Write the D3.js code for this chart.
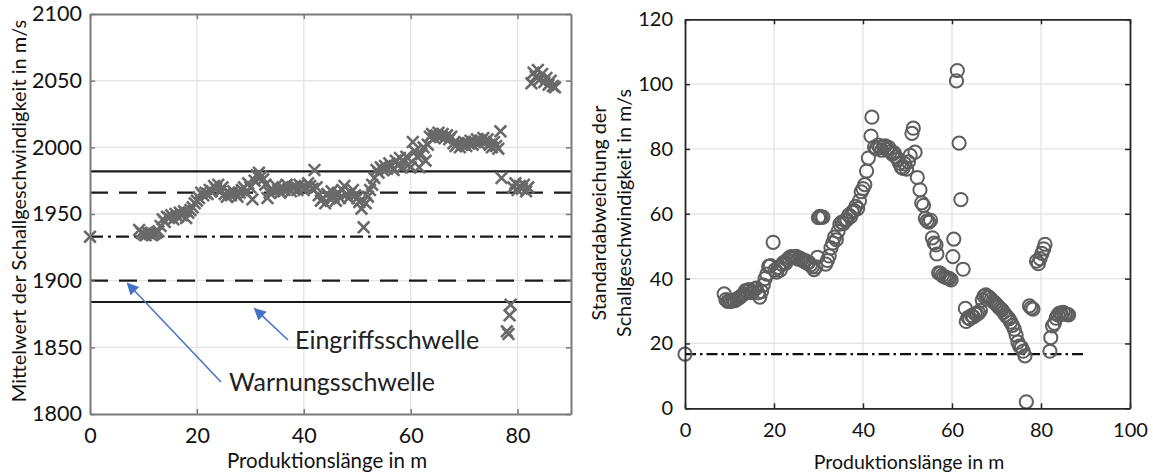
<!DOCTYPE html>
<html>
<head>
<meta charset="utf-8">
<script src="https://cdn.jsdelivr.net/npm/d3@7"></script>
<style>
  body { margin: 0; background: #fff; }
  svg { font-family: Lato, "Noto Sans", sans-serif; }
</style>
</head>
<body>
<div id="chart"></div>
<script>
// ---- data: left chart (mean sound speed) ----
let meanLength = [0, 9.2, 9.6, 10.0, 10.4, 10.8, 11.2, 11.6, 12.0, 12.4, 12.8, 13.2, 13.6, 14.0, 14.4, 14.8, 15.2, 15.6, 16.0, 16.4, 16.8, 17.2, 17.6, 18.0, 18.4, 18.8, 19.2, 19.6,
    20.0, 20.4, 20.8, 21.2, 21.6, 22.0, 22.4, 22.8, 23.2, 23.6, 24.0, 24.4, 24.8, 25.2, 25.6, 26.0, 26.4, 26.8, 27.2, 27.6, 28.0, 28.4, 28.8, 29.2, 29.6,
    30.0, 30.4, 30.8, 31.2, 31.6, 32.0, 32.4, 32.8, 33.2, 33.6, 34.0, 34.4, 34.8, 35.2, 35.6, 36.0, 36.4, 36.8, 37.2, 37.6, 38.0, 38.4, 38.8, 39.2, 39.6,
    40.0, 40.4, 40.8, 41.2, 41.6, 42.0, 42.4, 42.8, 43.2, 43.6, 44.0, 44.4, 44.8, 45.2, 45.6, 46.0, 46.4, 46.8, 47.2, 47.6, 48.0, 48.4, 48.8, 49.2, 49.6,
    50.0, 50.4, 50.8, 51.2, 51.6, 52.0, 52.4, 52.8, 53.2, 53.6, 54.0, 54.4, 54.8, 55.2, 55.6, 56.0, 56.4, 56.8, 57.2, 57.6, 58.0, 58.4, 58.8, 59.2, 59.6,
    60.0, 60.4, 60.8, 61.2, 61.6, 62.0, 62.4, 62.8, 63.2, 63.6, 64.0, 64.4, 64.8, 65.2, 65.6, 66.0, 66.4, 66.8, 67.2, 67.6, 68.0, 68.4, 68.8, 69.2, 69.6,
    70.0, 70.4, 70.8, 71.2, 71.6, 72.0, 72.4, 72.8, 73.2, 73.6, 74.0, 74.4, 74.8, 75.2, 75.6, 76.0, 76.4, 76.8, 77.0, 78.0, 78.3, 78.5, 78.7, 79.2, 79.6,
    80.0, 80.4, 80.8, 81.2, 81.6, 82.0, 82.6, 83.0, 83.4, 83.8, 84.2, 84.6, 85.0, 85.4, 85.8, 86.2, 86.6, 87.0];
let meanSpeed = [1933, 1938, 1936, 1935, 1934, 1936, 1935, 1934, 1935, 1936, 1937, 1941, 1946, 1944, 1948, 1947, 1949, 1946, 1950, 1948, 1951, 1949, 1952, 1947, 1951, 1953, 1955, 1958,
    1960, 1962, 1966, 1964, 1966, 1965, 1968, 1967, 1971, 1969, 1972, 1967, 1970, 1965, 1963, 1966, 1964, 1967, 1965, 1963, 1966, 1968, 1970, 1966, 1973,
    1970, 1961, 1975, 1979, 1981, 1978, 1976, 1972, 1962, 1966, 1969, 1967, 1971, 1968, 1966, 1970, 1968, 1972, 1969, 1967, 1970, 1971, 1968, 1972, 1970,
    1968, 1970, 1973, 1971, 1969, 1983, 1970, 1964, 1960, 1962, 1958, 1965, 1962, 1967, 1963, 1960, 1966, 1962, 1968, 1971, 1965, 1962, 1966, 1968, 1964,
    1962, 1959, 1954, 1940, 1958, 1963, 1968, 1972, 1977, 1983, 1981, 1985, 1983, 1986, 1984, 1988, 1986, 1983, 1990, 1987, 1992, 1985, 1989, 1993, 1987,
    1985, 2004, 1997, 1993, 1985, 1995, 2000, 1990, 2002, 2008, 2010, 2007, 2009, 2011, 2008, 2010, 2007, 2009, 2006, 2008, 2003, 2001, 2003, 2000, 2002,
    2004, 2001, 2003, 2005, 2002, 2004, 2006, 2003, 2005, 2007, 2004, 2006, 2002, 2000, 2004, 2001, 1999, 2012, 1977, 1862, 1860, 1874, 1882, 1970, 1973,
    1968, 1971, 1969, 1972, 1967, 1970, 2048, 2056, 2053, 2058, 2051, 2055, 2049, 2052, 2047, 2050, 2046, 2045];

// control limits of the mean chart
let meanCenter = 1933;
let warnLimits = [1900, 1966];
let actionLimits = [1884, 1982];

// ---- data: right chart (standard deviation) ----
let stdLength = [0, 8.8, 9.2, 9.6, 10.0, 10.4, 10.8, 11.2, 11.6, 12.0, 12.4, 12.8, 13.2, 13.6, 14.0, 14.4, 14.8, 15.2, 15.6, 16.0, 16.4, 16.8, 17.2, 17.6, 18.0, 18.4, 18.8, 19.2, 19.8,
    20.2, 20.6, 21.0, 21.4, 21.8, 22.2, 22.6, 23.0, 23.4, 23.8, 24.2, 24.6, 25.0, 25.4, 25.8, 26.2, 26.6, 27.0, 27.4, 27.8, 28.2, 28.6, 29.0, 29.4, 29.8,
    30.0, 30.3, 30.6, 31.0, 31.6, 32.0, 32.4, 32.8, 33.2, 33.6, 34.0, 34.4, 34.8, 35.2, 35.6, 36.0, 36.4, 36.8, 37.2, 37.6, 38.0, 38.4, 38.8, 39.2, 39.6,
    40.0, 40.4, 40.8, 41.2, 41.8, 42.0, 42.6, 43.0, 43.4, 43.8, 44.2, 44.6, 45.0, 45.4, 45.8, 46.2, 46.6, 47.0, 47.4, 47.8, 48.2, 48.6, 49.0, 49.4, 49.8,
    50.2, 50.6, 51.0, 51.3, 51.7, 52.2, 52.8, 53.2, 53.6, 54.0, 54.4, 54.8, 55.2, 55.6, 56.0, 56.4, 56.6, 57.0, 57.4, 57.8, 58.2, 58.6, 59.0, 59.4, 59.8,
    60.2, 60.4, 61.0, 61.2, 61.6, 62.0, 62.5, 63.0, 63.2, 63.6, 64.0, 64.4, 64.8, 65.2, 65.6, 66.0, 66.4, 66.8, 67.2, 67.6, 68.0, 68.4, 68.8, 69.2, 69.6,
    70.0, 70.4, 70.8, 71.2, 71.6, 72.0, 72.4, 72.8, 73.2, 73.6, 74.0, 74.4, 74.8, 75.2, 75.6, 76.0, 76.4, 76.7, 77.4, 77.8, 78.2, 79.0, 79.4, 79.8,
    80.2, 80.6, 80.9, 82.0, 82.2, 82.6, 83.0, 83.4, 83.8, 84.2, 84.6, 85.0, 85.4, 85.8, 86.2];
let stdSpeed = [16.7, 35.3, 33.5, 33.0, 33.2, 33.0, 33.4, 33.2, 33.6, 34.0, 34.3, 34.8, 35.2, 36.3, 36.0, 36.6, 35.7, 36.0, 36.8, 37.1, 35.6, 34.3, 36.0, 38.0, 40.0, 41.4, 43.8, 44.0, 51.2,
    42.6, 42.0, 43.5, 42.6, 44.4, 45.0, 44.7, 45.8, 46.4, 46.8, 46.6, 46.5, 46.9, 46.0, 46.3, 46.0, 45.4, 45.6, 44.8, 45.0, 44.2, 43.6, 42.8, 43.6, 46.6,
    58.8, 59.2, 58.9, 59.0, 44.5, 45.6, 47.0, 49.5, 51.0, 52.8, 52.0, 54.6, 56.8, 57.4, 57.0, 58.0, 58.2, 59.6, 59.1, 60.5, 61.0, 62.3, 61.6, 64.0, 66.8,
    67.8, 69.0, 73.2, 77.2, 84.0, 89.8, 80.6, 80.0, 81.2, 80.4, 79.6, 80.8, 81.0, 79.8, 80.4, 79.2, 78.4, 78.8, 77.6, 76.8, 75.6, 74.4, 74.0, 75.4, 73.8,
    76.0, 78.0, 84.8, 86.4, 79.0, 71.2, 67.4, 63.4, 62.6, 58.6, 57.8, 57.4, 58.0, 52.6, 51.0, 50.4, 47.6, 41.8, 41.6, 41.0, 40.6, 40.4, 40.2, 40.0, 39.6,
    46.8, 52.2, 101.0, 104.2, 81.8, 64.4, 42.9, 30.8, 26.8, 28.0, 27.6, 28.6, 28.2, 29.2, 29.0, 29.4, 30.2, 33.4, 34.6, 35.0, 34.4, 34.2, 33.6, 33.0, 32.6,
    32.0, 31.4, 30.8, 30.4, 29.6, 28.8, 28.2, 27.6, 26.6, 25.6, 24.4, 22.6, 20.4, 19.2, 18.8, 17.6, 16.2, 2.0, 31.6, 31.0, 30.6, 45.4, 44.6, 46.2,
    47.8, 49.2, 50.6, 17.6, 21.8, 25.4, 26.2, 27.8, 28.8, 29.4, 29.0, 29.6, 29.2, 29.0, 28.8];
let stdCenter = 16.7;

// tick values
let meanXTicks = [0, 20, 40, 60, 80];
let meanYTicks = [1800, 1850, 1900, 1950, 2000, 2050, 2100];
let stdXTicks = [0, 20, 40, 60, 80, 100];
let stdYTicks = [0, 20, 40, 60, 80, 100, 120];

function drawCharts() {
    let W = 1153, H = 475;

    let svg = d3.select("#chart")
        .append("svg")
        .attr("width", W)
        .attr("height", H);

    // arrow head marker for the annotations
    svg.append("defs").append("marker")
        .attr("id", "arrowhead")
        .attr("viewBox", "0 0 10 10")
        .attr("refX", 9).attr("refY", 5)
        .attr("markerWidth", 13).attr("markerHeight", 12)
        .attr("markerUnits", "userSpaceOnUse")
        .attr("orient", "auto")
        .append("path")
        .attr("d", "M0,0 L10,5 L0,10 z")
        .attr("fill", "#4472c4");

    // ================= left chart =================
    let x1 = d3.scaleLinear().domain([0, 90]).range([90, 571]);
    let y1 = d3.scaleLinear().domain([1800, 2100]).range([414, 14]);

    let g1 = svg.append("g");

    // grid
    g1.append("g").selectAll("line")
        .data(meanXTicks.slice(1))
        .join("line")
        .attr("x1", d => x1(d)).attr("x2", d => x1(d))
        .attr("y1", y1(1800)).attr("y2", y1(2100))
        .attr("stroke", "#e3e3e3").attr("stroke-width", 1.3);
    g1.append("g").selectAll("line")
        .data(meanYTicks.slice(1, -1))
        .join("line")
        .attr("x1", x1(0)).attr("x2", x1(90))
        .attr("y1", d => y1(d)).attr("y2", d => y1(d))
        .attr("stroke", "#e3e3e3").attr("stroke-width", 1.3);

    // control limit lines
    let limits1 = [
        {v: actionLimits[1], dash: null},
        {v: warnLimits[1], dash: "18,11"},
        {v: meanCenter, dash: "13,5,3,5"},
        {v: warnLimits[0], dash: "18,11"},
        {v: actionLimits[0], dash: null}
    ];
    g1.append("g").selectAll("line")
        .data(limits1)
        .join("line")
        .attr("x1", x1(0)).attr("x2", x1(90))
        .attr("y1", d => y1(d.v)).attr("y2", d => y1(d.v))
        .attr("stroke", "#1a1a1a").attr("stroke-width", 2.2)
        .attr("stroke-dasharray", d => d.dash);

    // data points (x markers)
    let meanData = meanLength.map((d, i) => ({x: d, y: meanSpeed[i]}));
    g1.append("g").selectAll("path")
        .data(meanData)
        .join("path")
        .attr("transform", d => "translate(" + x1(d.x) + "," + y1(d.y) + ")")
        .attr("d", d3.symbol().type(d3.symbolTimes).size(90))
        .attr("fill", "none")
        .attr("stroke", "#696969")
        .attr("stroke-width", 2.6);

    // axes, ticks pointing inward
    let axisCol1 = "#7a7a7a";
    g1.append("g")
        .attr("transform", "translate(0," + y1(1800) + ")")
        .call(d3.axisBottom(x1).tickValues(meanXTicks).tickSize(-5).tickPadding(14).tickSizeOuter(0));
    g1.append("g")
        .attr("transform", "translate(0," + y1(2100) + ")")
        .call(d3.axisTop(x1).tickValues(meanXTicks).tickSize(-5).tickFormat("").tickSizeOuter(0));
    g1.append("g")
        .attr("transform", "translate(" + x1(0) + ",0)")
        .call(d3.axisLeft(y1).tickValues(meanYTicks).tickFormat(d3.format("d")).tickSize(-5).tickPadding(8).tickSizeOuter(0));
    g1.append("g")
        .attr("transform", "translate(" + x1(90) + ",0)")
        .call(d3.axisRight(y1).tickValues(meanYTicks).tickSize(-5).tickFormat("").tickSizeOuter(0));
    g1.selectAll(".domain").attr("stroke", axisCol1).attr("stroke-width", 2);
    g1.selectAll(".tick line").attr("stroke", axisCol1).attr("stroke-width", 1.5);
    g1.selectAll(".tick text").attr("font-size", 21.5).attr("font-family", "Lato").attr("fill", "#111");

    // axis titles
    g1.append("text")
        .attr("x", 327).attr("y", 468)
        .attr("text-anchor", "middle")
        .attr("font-size", 20.5).attr("fill", "#111")
        .text("Produktionslänge in m");
    g1.append("text")
        .attr("transform", "translate(26,211) rotate(-90)")
        .attr("text-anchor", "middle")
        .attr("font-size", 20).attr("fill", "#111")
        .text("Mittelwert der Schallgeschwindigkeit in m/s");

    // annotations
    g1.append("line")
        .attr("x1", 221).attr("y1", 382).attr("x2", x1(7)).attr("y2", y1(1898))
        .attr("stroke", "#4472c4").attr("stroke-width", 1.5)
        .attr("marker-end", "url(#arrowhead)");
    g1.append("line")
        .attr("x1", 288).attr("y1", 340).attr("x2", x1(30.8)).attr("y2", y1(1879))
        .attr("stroke", "#4472c4").attr("stroke-width", 1.5)
        .attr("marker-end", "url(#arrowhead)");
    g1.append("text")
        .attr("x", 295).attr("y", 349)
        .attr("font-size", 25).attr("fill", "#222")
        .text("Eingriffsschwelle");
    g1.append("text")
        .attr("x", 229).attr("y", 391)
        .attr("font-size", 25).attr("fill", "#222")
        .text("Warnungsschwelle");

    // ================= right chart =================
    let x2 = d3.scaleLinear().domain([0, 100]).range([685, 1130]);
    let y2 = d3.scaleLinear().domain([0, 120]).range([408.3, 19.3]);

    let g2 = svg.append("g");

    g2.append("g").selectAll("line")
        .data(stdXTicks.slice(1, -1))
        .join("line")
        .attr("x1", d => x2(d)).attr("x2", d => x2(d))
        .attr("y1", y2(0)).attr("y2", y2(120))
        .attr("stroke", "#e3e3e3").attr("stroke-width", 1.3);
    g2.append("g").selectAll("line")
        .data(stdYTicks.slice(1, -1))
        .join("line")
        .attr("x1", x2(0)).attr("x2", x2(100))
        .attr("y1", d => y2(d)).attr("y2", d => y2(d))
        .attr("stroke", "#e3e3e3").attr("stroke-width", 1.3);

    // control limit (dash-dot)
    g2.append("line")
        .attr("x1", x2(0)).attr("x2", x2(90))
        .attr("y1", y2(stdCenter)).attr("y2", y2(stdCenter))
        .attr("stroke", "#111").attr("stroke-width", 2.2)
        .attr("stroke-dasharray", "11,4,2.5,4");

    let stdData = stdLength.map((d, i) => ({x: d, y: stdSpeed[i]}));
    g2.append("g").selectAll("circle")
        .data(stdData)
        .join("circle")
        .attr("cx", d => x2(d.x))
        .attr("cy", d => y2(d.y))
        .attr("r", 6.6)
        .attr("fill", "none")
        .attr("stroke", "#5e5e5e")
        .attr("stroke-width", 2);

    let axisCol2 = "#262626";
    g2.append("g")
        .attr("transform", "translate(0," + y2(0) + ")")
        .call(d3.axisBottom(x2).tickValues(stdXTicks).tickSize(-5).tickPadding(15).tickSizeOuter(0));
    g2.append("g")
        .attr("transform", "translate(0," + y2(120) + ")")
        .call(d3.axisTop(x2).tickValues(stdXTicks).tickSize(-5).tickFormat("").tickSizeOuter(0));
    g2.append("g")
        .attr("transform", "translate(" + x2(0) + ",0)")
        .call(d3.axisLeft(y2).tickValues(stdYTicks).tickSize(-5).tickPadding(12).tickSizeOuter(0));
    g2.append("g")
        .attr("transform", "translate(" + x2(100) + ",0)")
        .call(d3.axisRight(y2).tickValues(stdYTicks).tickSize(-5).tickFormat("").tickSizeOuter(0));
    g2.selectAll(".domain").attr("stroke", axisCol2).attr("stroke-width", 1.8);
    g2.selectAll(".tick line").attr("stroke", axisCol2).attr("stroke-width", 1.5);
    g2.selectAll(".tick text").attr("font-size", 20).attr("font-family", "Lato").attr("fill", "#111");

    g2.append("text")
        .attr("x", 909).attr("y", 469)
        .attr("text-anchor", "middle")
        .attr("font-size", 19.5).attr("fill", "#111")
        .text("Produktionslänge in m");
    g2.append("text")
        .attr("transform", "translate(606,213) rotate(-90)")
        .attr("text-anchor", "middle")
        .attr("font-size", 19.8).attr("fill", "#111")
        .text("Standardabweichung der");
    g2.append("text")
        .attr("transform", "translate(631,213) rotate(-90)")
        .attr("text-anchor", "middle")
        .attr("font-size", 19.8).attr("fill", "#111")
        .text("Schallgeschwindigkeit in m/s");
}

drawCharts();
</script>
</body>
</html>
